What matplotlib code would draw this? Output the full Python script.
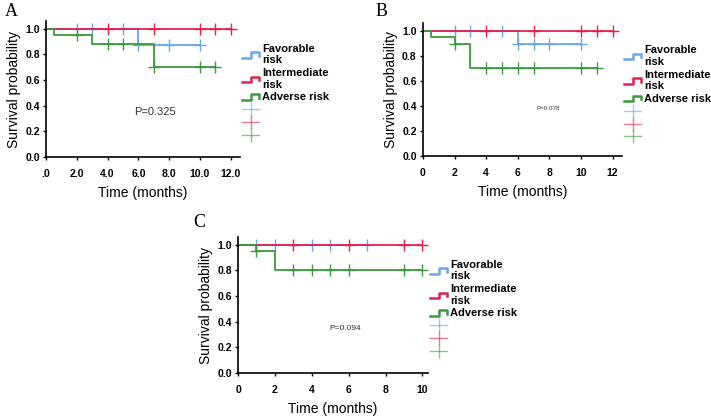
import numpy as np
import matplotlib
matplotlib.use('Agg')
import matplotlib.pyplot as plt
from matplotlib.lines import Line2D
from matplotlib.legend_handler import HandlerBase

plt.rcParams['font.family'] = ['Liberation Sans', 'DejaVu Sans']

BLUE = '#6aa6e8'
RED = '#e0234e'
GREEN = '#3c9a3c'

# ---- panel A ----
a_fav_t = [0, 6, 10]
a_fav_s = [1.0, 0.875, 0.875]
a_fav_cens = [2, 3, 5, 6, 8, 10]
a_int_t = [0, 12]
a_int_s = [1.0, 1.0]
a_int_cens = [4, 7, 10, 11, 12]
a_adv_t = [0, 0.5, 3, 7, 11]
a_adv_s = [1.0, 0.95, 0.88, 0.70, 0.70]
a_adv_cens = [2, 4, 5, 7, 10, 11]
a_ticks = [0, 2, 4, 6, 8, 10, 12]
a_ticklabels = ['.0', '2.0', '4.0', '6.0', '8.0', '10.0', '12.0']

# ---- panel B ----
b_fav_t = [0, 6, 10]
b_fav_s = [1.0, 0.89, 0.89]
b_fav_cens = [2, 3, 5, 6, 7, 8, 10]
b_int_t = [0, 12]
b_int_s = [1.0, 1.0]
b_int_cens = [4, 7, 10, 11, 12]
b_adv_t = [0, 0.5, 2, 3, 11]
b_adv_s = [1.0, 0.947, 0.895, 0.70, 0.70]
b_adv_cens = [2, 4, 5, 6, 7, 10, 11]
b_ticks = [0, 2, 4, 6, 8, 10, 12]
b_ticklabels = ['0', '2', '4', '6', '8', '10', '12']

# ---- panel C ----
c_fav_t = [0, 7]
c_fav_s = [1.0, 1.0]
c_fav_cens = [1, 2, 4, 5, 7]
c_int_t = [0, 10]
c_int_s = [1.0, 1.0]
c_int_cens = [3, 6, 9, 10]
c_adv_t = [0, 1, 2, 10]
c_adv_s = [1.0, 0.95, 0.80, 0.80]
c_adv_cens = [1, 3, 4, 5, 6, 9, 10]
c_ticks = [0, 2, 4, 6, 8, 10]
c_ticklabels = ['0', '2', '4', '6', '8', '10']

y_ticks = [0.0, 0.2, 0.4, 0.6, 0.8, 1.0]
labels = ['Favorable\nrisk', 'Intermediate\nrisk', 'Adverse risk']


class HandlerStep(HandlerBase):
    def create_artists(self, legend, orig_handle, xdescent, ydescent,
                       width, height, fontsize, trans):
        xs = np.array([0, 0.5, 0.5, 1.0, 1.0]) * width - xdescent
        ys = np.array([0.1, 0.1, 0.8, 0.8, 0.35]) * height - ydescent
        ln = Line2D(xs, ys, color=orig_handle.get_color(), lw=1.8)
        ln.set_transform(trans)
        return [ln]


def surv_at(t_list, s_list, t):
    val = s_list[0]
    for tt, ss in zip(t_list, s_list):
        if tt <= t:
            val = ss
    return val


def draw_group(ax, t, s, cens, color):
    ax.step(t, s, where='post', color=color, lw=1.3)
    cy = [surv_at(t, s, c) for c in cens]
    ax.plot(cens, cy, linestyle='none', marker='+', ms=9, mew=1.0, color=color)


def panel(rect, letter, letter_px, groups, ticks, ticklabels, xmax, ptext, ppos, pfs, leg_y):
    ax = fig.add_axes(rect)
    for t, s, cens, color in groups:
        draw_group(ax, t, s, cens, color)
    ax.set_xlim(0, xmax)
    ax.set_ylim(0, 1.06)
    ax.spines['top'].set_visible(False)
    ax.spines['right'].set_visible(False)
    ax.spines['left'].set_linewidth(1.2)
    ax.spines['bottom'].set_linewidth(1.2)
    ax.set_xticks(ticks)
    ax.set_xticklabels(ticklabels)
    ax.set_yticks(y_ticks)
    ax.set_yticklabels(['%.1f' % v for v in y_ticks])
    ax.tick_params(labelsize=7.5, length=2.5, width=1)
    ax.tick_params(axis='x', pad=6)
    ax.tick_params(axis='y', pad=2)
    for lb in ax.get_xticklabels() + ax.get_yticklabels():
        lb.set_fontweight('bold')
    ax.set_xlabel('Time (months)', fontsize=10, labelpad=5)
    ax.set_ylabel('Survival probability', fontsize=10, labelpad=3)
    ax.text(ppos[0], ppos[1], ptext, fontsize=pfs, color='#333333', ha='center', va='center')
    fig.text(letter_px[0] / 711, 1 - letter_px[1] / 419, letter,
             family='Liberation Serif', fontsize=13, va='top')

    step_handles = [Line2D([], [], color=c) for c in (BLUE, RED, GREEN)]
    cross_handles = [Line2D([], [], color=c, lw=1, marker='|', ms=10, mew=1, alpha=0.6)
                     for c in (BLUE, RED, GREEN)]
    ax.legend(step_handles + cross_handles, labels + ['', '', ''],
              handler_map={h: HandlerStep() for h in step_handles},
              loc='upper left', bbox_to_anchor=(1.0, leg_y), frameon=False,
              borderpad=0, borderaxespad=0.2, handlelength=1.5, handletextpad=0.3,
              labelspacing=0.25, prop={'weight': 'bold', 'size': 8})
    return ax


fig = plt.figure(figsize=(7.11, 4.19), dpi=100)

panel([46 / 711, 1 - 157 / 419, 194 / 711, 136 / 419], 'A', (5, 3),
      [(a_fav_t, a_fav_s, a_fav_cens, BLUE), (a_int_t, a_int_s, a_int_cens, RED),
       (a_adv_t, a_adv_s, a_adv_cens, GREEN)],
      a_ticks, a_ticklabels, 12.6, 'P=0.325', (7.1, 0.35), 8, 0.85)

panel([423 / 711, 1 - 156 / 419, 199 / 711, 133 / 419], 'B', (376, 3),
      [(b_fav_t, b_fav_s, b_fav_cens, BLUE), (b_int_t, b_int_s, b_int_cens, RED),
       (b_adv_t, b_adv_s, b_adv_cens, GREEN)],
      b_ticks, b_ticklabels, 12.6, 'P=0.078', (7.9, 0.38), 4.5, 0.85)

panel([238 / 711, 1 - 373 / 419, 190 / 711, 136 / 419], 'C', (193, 214),
      [(c_fav_t, c_fav_s, c_fav_cens, BLUE), (c_int_t, c_int_s, c_int_cens, RED),
       (c_adv_t, c_adv_s, c_adv_cens, GREEN)],
      c_ticks, c_ticklabels, 10.3, 'P=0.094', (5.8, 0.35), 6, 0.85)

fig.savefig('out.png', dpi=100)
